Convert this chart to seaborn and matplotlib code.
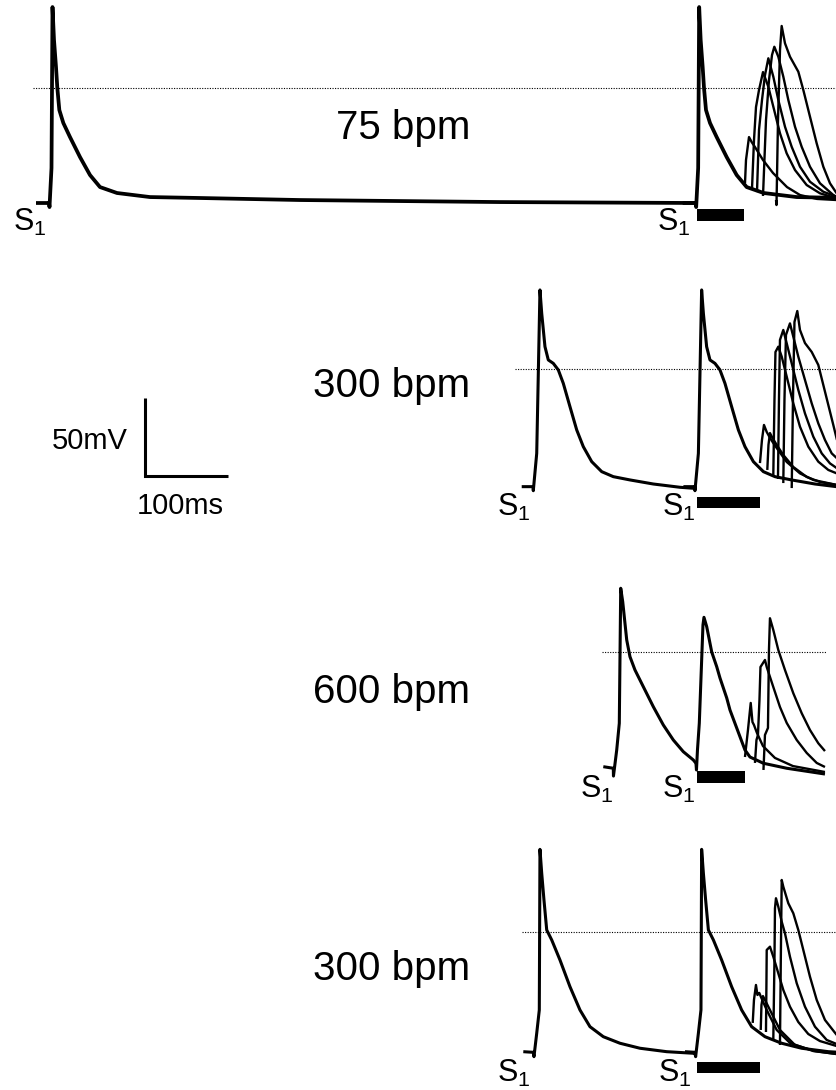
import matplotlib
matplotlib.use("Agg")
import matplotlib.pyplot as plt
import numpy as np
import pandas as pd
import seaborn as sns

sns.set_theme(style="white")
plt.rcParams["font.family"] = ["Liberation Sans", "DejaVu Sans"]
plt.rcParams["mathtext.fontset"] = "custom"
plt.rcParams["mathtext.rm"] = "Liberation Sans"
plt.rcParams["mathtext.default"] = "regular"
plt.rcParams["text.color"] = "black"

# ---------------- data (time in ms from first S1, voltage in mV) ----------------
rate_labels = ["75 bpm", "300 bpm", "600 bpm", "300 bpm"]

# Panel 1: 75 bpm
ap75_t = [-16.8, -1.2, -0.6, 1.8, 3.0, 4.8, 7.2, 8.8, 11.2, 16.0, 24.0, 36.0, 48.0, 60.0,
          80.4, 120.0, 180.0, 300.0, 540.0, 776.4]
ap75_v = [-73.6, -73.6, -76.2, -51.2, 51.8, 30.7, 13.4, 0.0, -14.1, -22.4, -31.4, -44.2, -55.7,
          -63.4, -67.2, -69.8, -70.4, -71.7, -73.0, -73.6]
s1_times_75 = [0.0, 776.0]
s2_75 = [
    ([834.0, 835.2, 838.8, 842.0, 846.0, 855.6, 867.6, 884.4, 900.0, 920.4, 944.4],
     [-60.8, -46.1, -31.4, -34.6, -37.8, -46.1, -54.4, -63.4, -68.5, -71.0, -71.7]),
    ([842.4, 844.8, 847.2, 850.8, 855.6, 862.0, 868.0, 876.0, 884.0, 894.0, 908.0, 924.0, 944.0],
     [-64.6, -33.3, -12.2, -1.3, 10.2, 0.8, -12.0, -29.0, -41.8, -52.5, -62.1, -67.4, -70.6]),
    ([848.4, 850.8, 854.4, 858.0, 862.0, 868.0, 874.0, 882.0, 890.0, 900.0, 912.0, 928.0, 944.0],
     [-66.6, -26.9, -7.7, 8.3, 19.0, 7.2, -7.7, -24.8, -37.6, -50.4, -60.0, -66.4, -69.6]),
    ([855.6, 859.2, 862.8, 866.4, 869.2, 874.0, 880.0, 886.0, 894.0, 902.0, 912.0, 924.0, 940.0, 944.4],
     [-69.1, -20.5, 5.1, 21.1, 26.4, 20.0, 7.2, -7.7, -24.8, -37.6, -50.4, -61.0, -68.5, -69.8]),
    ([871.2, 871.8, 873.6, 876.0, 878.0, 882.0, 888.0, 898.0, 904.0, 912.0, 920.0, 928.0, 936.0, 944.0],
     [-71.7, -74.9, -20.5, 24.3, 39.7, 28.6, 20.0, 10.4, -1.3, -18.4, -35.4, -50.4, -61.0, -67.4]),
]
s2_window_75 = [776.4, 832.8]

# Panel 2: 300 bpm
ap300a_t = [-13.9, -0.4, 0.0, 4.1, 8.0, 10.1, 14.0, 18.0, 24.0, 30.0, 36.0, 44.0, 52.1, 60.0,
            70.1, 82.1, 96.0, 116.0, 144.0, 176.0, 194.0]
ap300a_v = [-75.3, -75.3, -77.9, -54.0, 50.6, 35.6, 14.3, 5.8, 3.6, -0.6, -9.2, -24.1, -39.0,
            -49.7, -59.3, -65.7, -68.9, -71.0, -73.6, -75.7, -76.4]
s1_times_300a = [0.0, 194.0]
s2_300a = [
    ([272.0, 274.4, 276.8, 280.1, 282.8, 286.4, 292.1, 304.1, 320.0, 336.0, 364.1],
     [-60.2, -45.4, -35.8, -40.3, -42.9, -46.1, -50.6, -59.5, -66.8, -71.0, -74.2]),
    ([280.8, 282.2, 284.0, 286.4, 292.1, 300.0, 312.0, 328.1, 344.0, 364.1],
     [-64.6, -48.6, -41.0, -43.5, -48.6, -55.0, -62.7, -69.1, -72.3, -74.2]),
    ([288.0, 289.4, 290.6, 294.0, 298.1, 304.1, 312.0, 320.0, 330.0, 342.0, 354.0, 364.1],
     [-67.8, -19.8, 10.9, 14.3, 7.9, -4.9, -22.0, -36.9, -49.7, -59.3, -64.6, -66.8]),
    ([293.6, 294.8, 296.0, 300.0, 304.1, 310.1, 318.0, 326.0, 336.0, 346.1, 356.0, 364.1],
     [-70.4, -19.8, 18.6, 25.0, 16.4, 3.6, -13.4, -28.4, -43.3, -54.0, -60.4, -63.4]),
    ([300.0, 301.4, 303.2, 308.0, 312.0, 318.0, 326.0, 334.1, 342.0, 350.0, 358.1, 364.1],
     [-73.0, -19.8, 21.8, 29.2, 20.7, 7.9, -7.0, -22.0, -34.8, -45.4, -54.0, -57.0]),
    ([310.1, 311.6, 313.4, 316.8, 320.0, 326.0, 334.1, 342.0, 348.0, 354.0, 360.0, 364.4],
     [-76.2, -19.8, 30.1, 37.1, 25.0, 16.6, 10.9, 2.6, -10.2, -23.0, -35.8, -45.4]),
]
s2_window_300a = [196.4, 272.0]

# Panel 3: 600 bpm
ap600_beat1_t = [-12.0, 0.0, 0.2, 4.1, 7.2, 8.9, 11.3, 16.1, 20.0, 26.0, 36.0, 48.0, 60.0,
                 72.0, 84.0, 96.0, 99.2]
ap600_beat1_v = [-73.4, -74.4, -79.4, -62.7, -45.6, 40.8, 32.2, 7.7, -3.0, -11.5, -22.2, -35.0,
                 -46.7, -56.3, -63.8, -69.1, -71.2]
ap600_beat2_t = [99.2, 99.8, 101.0, 103.2, 107.6, 108.8, 112.1, 118.1, 124.1, 128.0, 136.1,
                 140.0, 152.0, 158.0, 164.0, 180.0, 208.1, 254.0]
ap600_beat2_v = [-71.2, -75.5, -62.7, -45.6, 17.3, 22.2, 16.2, 0.0, -9.4, -16.6, -29.4, -37.1,
                 -54.2, -62.7, -67.2, -71.2, -74.4, -78.1]
s2_600 = [
    ([158.0, 161.6, 164.9, 167.0, 168.8, 172.4, 179.6, 194.0, 215.6, 254.0],
     [-67.2, -49.9, -32.6, -44.8, -46.7, -51.8, -60.2, -67.8, -73.0, -76.8]),
    ([170.0, 171.8, 173.6, 175.4, 176.6, 182.0, 184.1, 192.0, 200.0, 208.1, 220.1, 232.1, 244.1, 254.0],
     [-71.0, -56.3, -53.1, -30.7, -9.6, -5.1, -9.6, -22.4, -35.2, -45.4, -56.3, -64.6, -71.0, -73.6]),
    ([180.2, 182.0, 185.6, 186.8, 188.0, 192.0, 198.0, 206.0, 216.0, 226.1, 236.0, 246.0, 254.0],
     [-75.5, -53.1, -48.6, 1.3, 21.6, 14.1, 1.3, -11.5, -26.4, -39.2, -49.9, -58.4, -63.4]),
]
s2_window_600 = [100.4, 158.0]

# Panel 4: 300 bpm
ap300b_t = [-12.0, 0.0, 0.8, 4.1, 7.2, 8.0, 10.1, 12.8, 16.1, 22.1, 32.0, 44.0, 56.0, 68.0,
            84.0, 104.0, 128.0, 160.1, 192.0, 194.0]
ap300b_v = [-76.6, -77.0, -79.8, -64.8, -49.9, 52.9, 37.6, 20.5, 1.3, -5.1, -17.9, -35.0, -49.9,
            -60.6, -67.0, -71.2, -74.4, -76.6, -77.6, -78.1]
s1_times_300b = [0.0, 194.0]
s2_300b = [
    ([263.3, 264.8, 267.2, 269.0, 271.2, 273.2, 280.1, 292.1, 308.0, 336.0, 364.1],
     [-58.2, -43.5, -33.9, -40.3, -39.0, -41.6, -49.9, -62.7, -71.0, -76.2, -78.1]),
    ([272.9, 273.8, 275.6, 278.0, 284.0, 296.0, 314.0, 338.0, 364.1],
     [-62.7, -46.7, -41.0, -43.5, -49.9, -62.7, -72.3, -76.2, -78.1]),
    ([279.2, 279.8, 280.1, 284.0, 288.0, 294.0, 300.0, 308.0, 318.0, 330.0, 344.0, 364.1],
     [-64.0, -30.7, -11.5, -9.4, -15.8, -26.4, -37.1, -47.8, -57.6, -65.3, -69.8, -73.0]),
    ([288.0, 289.4, 290.0, 291.2, 294.0, 298.1, 302.0, 308.0, 316.1, 326.0, 338.0, 352.1, 364.1],
     [-69.1, -17.9, 15.2, 21.6, 16.2, 6.6, -0.8, -15.8, -32.8, -47.8, -60.6, -69.1, -71.7]),
    ([296.0, 297.0, 298.1, 300.0, 306.0, 312.0, 318.0, 324.0, 332.0, 340.1, 350.0, 364.1],
     [-72.3, -17.9, 33.3, 29.0, 18.4, 12.0, 1.3, -11.5, -28.6, -43.5, -56.3, -65.9]),
]
s2_window_300b = [196.4, 272.0]

scale_ms, scale_mv = 100.0, 50.0

# ---------------- layout (pixels of the 837x1090 canvas) ----------------
W, H = 837, 1090
MS_PER_PX, MV_PER_PX = 1.2, 0.64

def gx(px):
    return px * MS_PER_PX

def gy(py):
    return -py * MV_PER_PX

# panel origin: (first S1 x px, 0 mV y px)
origins = [(50.0, 88.0), (533.3, 369.0), (613.3, 652.0), (533.3, 932.0)]
dotted_px = [(33, 837), (515, 837), (602, 826), (522, 837)]
label_px = [(470, 139), (470, 397), (470, 703), (470, 980)]
s1_label_px = [[(13, 231), (657, 231)], [(497, 516), (662, 516)],
               [(580, 798), (662, 798)], [(497, 1082), (658, 1082)]]
bar_y_px = [(209, 221), (497, 508), (771, 783), (1062, 1073)]
windows = [s2_window_75, s2_window_300a, s2_window_600, s2_window_300b]

rows = []
def add(name, kind, t, v, p):
    x0 = gx(origins[p][0])
    y0 = gy(origins[p][1])
    for ti, vi in zip(t, v):
        rows.append((name, kind, x0 + ti, y0 + vi))

for k, st in enumerate(s1_times_75):
    add(f"p1_s1_{k}", "s1w", [st + t for t in ap75_t], ap75_v, 0)
for k, (t, v) in enumerate(s2_75):
    add(f"p1_s2_{k}", "s2", t, v, 0)

for k, st in enumerate(s1_times_300a):
    add(f"p2_s1_{k}", "s1", [st + t for t in ap300a_t], ap300a_v, 1)
for k, (t, v) in enumerate(s2_300a):
    add(f"p2_s2_{k}", "s2", t, v, 1)

add("p3_s1_0", "s1", ap600_beat1_t, ap600_beat1_v, 2)
add("p3_s1_1", "s1", ap600_beat2_t, ap600_beat2_v, 2)
for k, (t, v) in enumerate(s2_600):
    add(f"p3_s2_{k}", "s2", t, v, 2)

for k, st in enumerate(s1_times_300b):
    add(f"p4_s1_{k}", "s1", [st + t for t in ap300b_t], ap300b_v, 3)
for k, (t, v) in enumerate(s2_300b):
    add(f"p4_s2_{k}", "s2", t, v, 3)

df = pd.DataFrame(rows, columns=["trace", "kind", "t", "v"])

fig = plt.figure(figsize=(W / 100, H / 100), dpi=100)
ax = fig.add_axes([0, 0, 1, 1])

for kind, lw in [("s1w", 2.7), ("s1", 2.2), ("s2", 1.7)]:
    sns.lineplot(data=df[df.kind == kind], x="t", y="v", units="trace", estimator=None,
                 sort=False, color="black", linewidth=lw, ax=ax, legend=False,
                 solid_joinstyle="round", solid_capstyle="butt")

for p in range(4):
    x0 = gx(origins[p][0])
    y0 = gy(origins[p][1])
    # 0 mV reference
    ax.plot([gx(dotted_px[p][0]), gx(dotted_px[p][1])], [y0, y0], color="black",
            linewidth=0.8, linestyle=(0, (1, 1.3)))
    # S2 window bar
    w0, w1 = windows[p]
    ax.fill_between([x0 + w0, x0 + w1], gy(bar_y_px[p][1]), gy(bar_y_px[p][0]),
                    color="black", linewidth=0)
    # rate label
    ax.text(gx(label_px[p][0]), gy(label_px[p][1]), rate_labels[p], ha="right",
            va="baseline", fontsize=29, color="black")
    for (lx, ly) in s1_label_px[p]:
        ax.text(gx(lx), gy(ly), r"S$_1$", ha="left", va="baseline", fontsize=22,
                color="black")

# scale bar
cx, cy = gx(145), gy(476)
ax.plot([cx, cx, cx + scale_ms], [cy + scale_mv, cy, cy], color="black", linewidth=2.2,
        solid_capstyle="butt", solid_joinstyle="miter")
ax.text(gx(128), gy(449), f"{int(scale_mv)}mV", ha="right", va="baseline", fontsize=21,
        color="black")
ax.text(gx(137), gy(514), f"{int(scale_ms)}ms", ha="left", va="baseline", fontsize=21,
        color="black")

ax.set_xlim(0, gx(W))
ax.set_ylim(gy(H), 0)
ax.axis("off")
fig.savefig("out.png", dpi=100, facecolor="white")
